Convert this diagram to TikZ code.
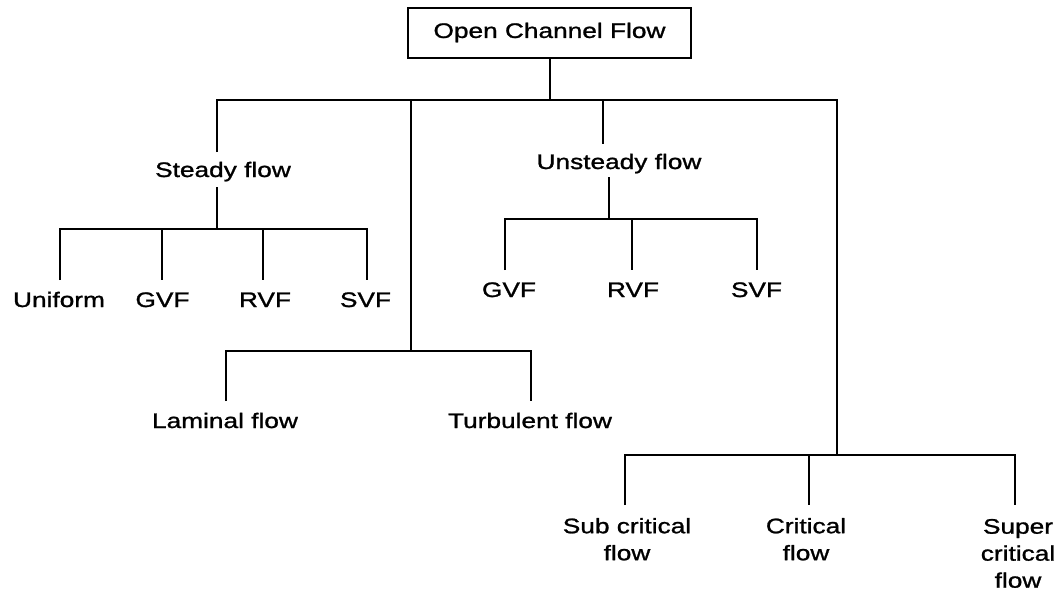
\documentclass[tikz,border=0pt]{standalone}
\usepackage{fontspec}
\newfontfamily\lbfont{Liberation Sans}[FakeStretch=1.25,FakeBold=1.2]
\begin{document}
\begin{tikzpicture}[x=1pt,y=-1pt,line width=2pt,
  lbl/.style={inner sep=0pt,align=center,font=\lbfont\fontsize{21}{27}\selectfont},
  rootbox/.style={draw,line width=2pt,minimum width=283pt,minimum height=50pt,inner sep=0pt,font=\lbfont\fontsize{21}{27}\selectfont}]
\useasboundingbox (0,0) rectangle (1063,590);
% nodes
\node[rootbox] (root) at (549.5,32.5) {Open Channel Flow};
\node[lbl,anchor=base] (steady) at (223,177) {Steady flow};
\node[lbl,anchor=base] (unsteady) at (619,169) {Unsteady flow};
\node[lbl,anchor=base] (uniform) at (59,307) {Uniform};
\node[lbl,anchor=base] (gvfa) at (162.5,307) {GVF};
\node[lbl,anchor=base] (rvfa) at (265,307) {RVF};
\node[lbl,anchor=base] (svfa) at (365.5,307) {SVF};
\node[lbl,anchor=base] (gvfb) at (509,297) {GVF};
\node[lbl,anchor=base] (rvfb) at (633,297) {RVF};
\node[lbl,anchor=base] (svfb) at (756.5,297) {SVF};
\node[lbl,anchor=base] (laminal) at (225,428) {Laminal flow};
\node[lbl,anchor=base] (turb) at (530,428) {Turbulent flow};
\node[lbl,anchor=north] (sub) at (627,517) {Sub critical\\flow};
\node[lbl,anchor=north] (crit) at (806,517) {Critical\\flow};
\node[lbl,anchor=north] (super) at (1018,518) {Super\\critical\\flow};
% junction coordinates
\coordinate (r0) at (root.south|-0,100);
\coordinate (hL) at (217,100);
\coordinate (hR) at (837,100);
\coordinate (sTop) at (217,152);
\coordinate (sBot) at (217,187);
\coordinate (sJ) at (217,229);
\coordinate (a1) at (60,280);  \coordinate (a1j) at (60,229);
\coordinate (a2) at (162,280); \coordinate (a2j) at (162,229);
\coordinate (a3) at (263,280); \coordinate (a3j) at (263,229);
\coordinate (a4) at (367,280); \coordinate (a4j) at (367,229);
\coordinate (tTop) at (411,100);
\coordinate (tJ) at (411,351);
\coordinate (t1) at (226,401); \coordinate (t1j) at (226,351);
\coordinate (t2) at (531,401); \coordinate (t2j) at (531,351);
\coordinate (uTop) at (603,100);
\coordinate (uEnd) at (603,144);
\coordinate (uBot) at (609,177);
\coordinate (uJ) at (609,219);
\coordinate (b1) at (505,270); \coordinate (b1j) at (505,219);
\coordinate (b2) at (632,270); \coordinate (b2j) at (632,219);
\coordinate (b3) at (757,270); \coordinate (b3j) at (757,219);
\coordinate (cJ) at (837,455);
\coordinate (c1) at (625,505); \coordinate (c1j) at (625,455);
\coordinate (c2) at (809,505); \coordinate (c2j) at (809,455);
\coordinate (c3) at (1015,505); \coordinate (c3j) at (1015,455);
% connectors
\draw (root.south) -- (r0);
\draw (sTop) -- (hL) -- (hR) -- (cJ);
\draw (sBot) -- (sJ);
\draw (a1) -- (a1j) -- (a4j) -- (a4);
\draw (a2j) -- (a2);
\draw (a3j) -- (a3);
\draw (tTop) -- (tJ);
\draw (t1) -- (t1j) -- (t2j) -- (t2);
\draw (uTop) -- (uEnd);
\draw (uBot) -- (uJ);
\draw (b1) -- (b1j) -- (b3j) -- (b3);
\draw (b2j) -- (b2);
\draw (c1) -- (c1j) -- (c3j) -- (c3);
\draw (c2j) -- (c2);
\end{tikzpicture}
\end{document}
